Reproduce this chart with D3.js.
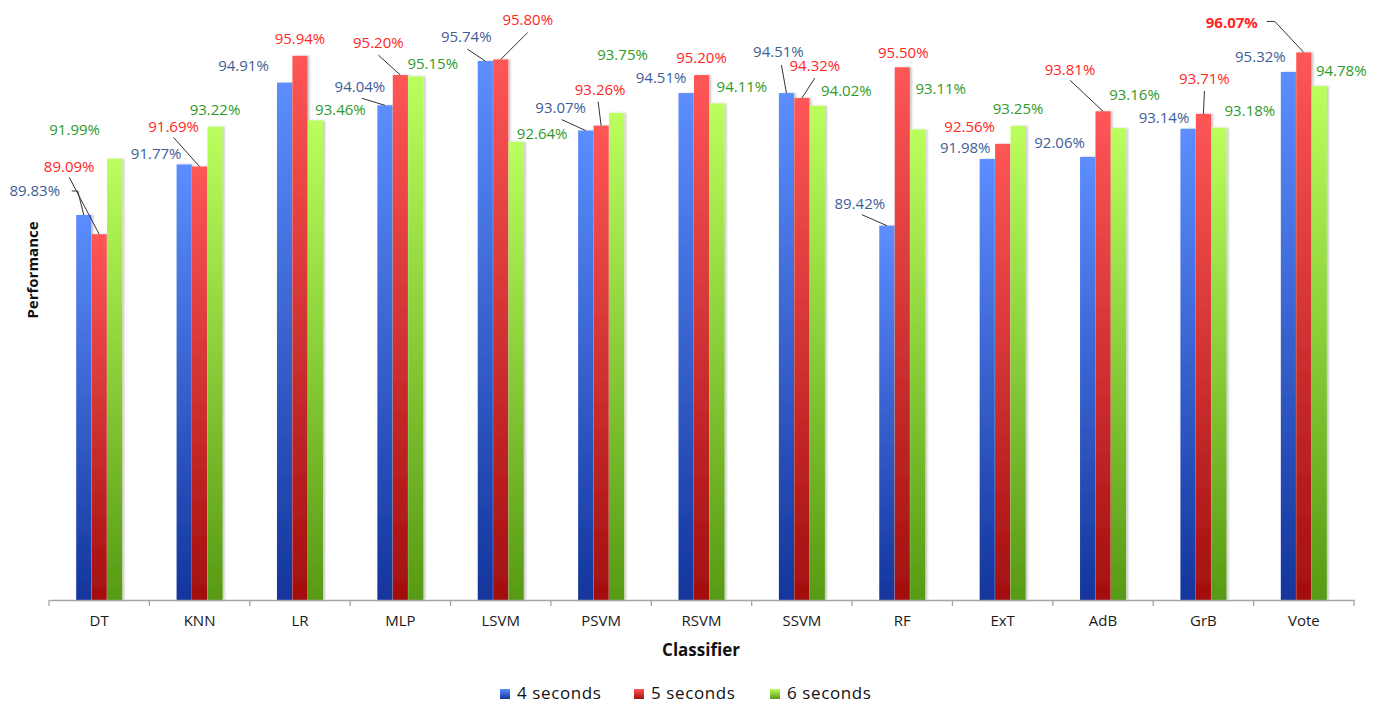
<!DOCTYPE html>
<html>
<head>
<meta charset="utf-8">
<script src="https://cdn.jsdelivr.net/npm/d3@7"></script>
<style>
  html, body { margin: 0; padding: 0; background: #ffffff; }
  svg { display: block; font-family: "Open Sans", "DejaVu Sans", sans-serif; }
</style>
</head>
<body>
<svg id="chart" width="1382" height="706"></svg>
<script>
// Classifier accuracy for three window lengths
const classifiers = ["DT", "KNN", "LR", "MLP", "LSVM", "PSVM", "RSVM", "SSVM", "RF", "ExT", "AdB", "GrB", "Vote"];
const seriesNames = ["4 seconds", "5 seconds", "6 seconds"];
const sec4 = [89.83, 91.77, 94.91, 94.04, 95.74, 93.07, 94.51, 94.51, 89.42, 91.98, 92.06, 93.14, 95.32];
const sec5 = [89.09, 91.69, 95.94, 95.20, 95.80, 93.26, 95.20, 94.32, 95.50, 92.56, 93.81, 93.71, 96.07];
const sec6 = [91.99, 93.22, 93.46, 95.15, 92.64, 93.75, 94.11, 94.02, 93.11, 93.25, 93.16, 93.18, 94.78];
const seriesValues = [sec4, sec5, sec6];

// Hand-placed label offsets [dx, dy] from the top centre of each bar
const labelOffsets4 = [[-49,-24],[-28,-11],[-41,-17],[-25,-19],[-19,-24],[-25,-23],[-25,-15],[-8,-41],[-27,-22],[-22,-11],[-28,-14],[-24,-11],[-28,-15]];
const labelOffsets5 = [[-30,-68],[-26,-40],[0,-17],[-22,-32],[27,-40],[-1,-36],[0,-17],[13,-32],[1,-15],[-33,-17],[-33,-42],[1,-35],[-72,-30]];
const labelOffsets6 = [[-40,-29],[0,-17],[25,-11],[17,-13],[26,-8],[6,-58],[25,-17],[29,-15],[23,-41],[0,-17],[16,-34],[31,-17],[22,-15]];
const labelOffsets = [labelOffsets4, labelOffsets5, labelOffsets6];

// Leader lines: start point relative to label centre, optional elbow, then to bar top
const leaders = [
  { s: 0, c: "DT",   start: [37, 0], elbow: [43, 0] },
  { s: 1, c: "DT",   start: [0, 11] },
  { s: 1, c: "KNN",  start: [0, 11] },
  { s: 0, c: "MLP",  start: [2, 12] },
  { s: 1, c: "MLP",  start: [0, 12] },
  { s: 0, c: "LSVM", start: [1, 12] },
  { s: 1, c: "LSVM", start: [0, 13] },
  { s: 0, c: "PSVM", start: [1, 12] },
  { s: 1, c: "PSVM", start: [-2, 12] },
  { s: 0, c: "SSVM", start: [3, 13] },
  { s: 1, c: "SSVM", start: [0, 12] },
  { s: 0, c: "RF",   start: [2, 11] },
  { s: 1, c: "AdB",  start: [0, 11] },
  { s: 1, c: "GrB",  start: [0, 12] },
  { s: 1, c: "Vote", start: [35, -1], elbow: [43, -1] }
];

const gradStops = [
  ["#5c8eff", "#13359c"],
  ["#ff5656", "#a30f0f"],
  ["#baff5c", "#579a14"]
];
const labelColors = ["#3e5e97", "#ff2626", "#2e9a2a"];

const svg = d3.select("#chart");
const defs = svg.append("defs");
gradStops.forEach((g, i) => {
  const lg = defs.append("linearGradient").attr("id", "grad" + i)
    .attr("x1", 0).attr("y1", 0).attr("x2", 0).attr("y2", 1);
  lg.append("stop").attr("offset", "0%").attr("stop-color", g[0]);
  lg.append("stop").attr("offset", "100%").attr("stop-color", g[1]);
});
const shadow = defs.append("filter").attr("id", "shadow")
  .attr("x", "-30%").attr("y", "-5%").attr("width", "160%").attr("height", "110%");
shadow.append("feDropShadow").attr("dx", 2).attr("dy", 0).attr("stdDeviation", 1.2)
  .attr("flood-color", "#000").attr("flood-opacity", 0.22);

const plotLeft = 49, plotRight = 1354, baseY = 600;
const x = d3.scaleBand().domain(classifiers).range([plotLeft, plotRight]).padding(0);
const groupW = 46;
const xs = d3.scaleBand().domain(d3.range(3)).range([0, groupW]).paddingInner(0.02);
const y = d3.scaleLinear().domain([75.05, 97]).range([baseY, baseY - 26.05 * (97 - 75.05)]);

const groupX = c => x(c) + (x.bandwidth() - groupW) / 2;
const barCX = (c, s) => groupX(c) + xs(s) + xs.bandwidth() / 2;

// Bars
const rows = [];
seriesValues.forEach((vals, s) => {
  vals.forEach((v, i) => rows.push({ s, c: classifiers[i], v, off: labelOffsets[s][i] }));
});

svg.append("g").attr("filter", "url(#shadow)")
  .selectAll("rect").data(rows).join("rect")
  .attr("x", d => groupX(d.c) + xs(d.s))
  .attr("width", xs.bandwidth())
  .attr("y", d => y(d.v))
  .attr("height", d => baseY - y(d.v))
  .attr("fill", d => `url(#grad${d.s})`);

// Axis
const axis = svg.append("g").attr("transform", `translate(0,${baseY})`)
  .call(d3.axisBottom(x).tickSize(0).tickPadding(15));
axis.select(".domain").attr("stroke", "#a6a6a6").attr("stroke-width", 1.3);
axis.selectAll("text").attr("font-size", 15).attr("fill", "#1a1a1a")
  .attr("font-family", "'Open Sans', sans-serif");
const bounds = classifiers.map(c => x(c)).concat([x(classifiers[classifiers.length - 1]) + x.bandwidth()]);
axis.selectAll("line.bound").data(bounds).join("line").attr("class", "bound")
  .attr("x1", d => d).attr("x2", d => d).attr("y1", 0).attr("y2", 6)
  .attr("stroke", "#a6a6a6").attr("stroke-width", 1.3);

// Leader lines
const rowOf = (s, c) => rows.find(r => r.s === s && r.c === c);
svg.append("g").selectAll("polyline").data(leaders).join("polyline")
  .attr("fill", "none").attr("stroke", "#333").attr("stroke-width", 1)
  .attr("points", d => {
    const r = rowOf(d.s, d.c);
    const cx = barCX(r.c, r.s), ty = y(r.v);
    const lx = cx + r.off[0], ly = ty + r.off[1];
    const pts = [[lx + d.start[0], ly + d.start[1]]];
    if (d.elbow) pts.push([lx + d.elbow[0], ly + d.elbow[1]]);
    pts.push([cx, ty]);
    return pts.map(p => p.join(",")).join(" ");
  });

// Value labels
svg.append("g").selectAll("text").data(rows).join("text")
  .attr("x", d => barCX(d.c, d.s) + d.off[0])
  .attr("y", d => y(d.v) + d.off[1])
  .attr("dy", "0.36em")
  .attr("text-anchor", "middle")
  .attr("font-size", 15)
  .attr("font-weight", d => (d.s === 1 && d.c === "Vote") ? 700 : 400)
  .attr("fill", d => labelColors[d.s])
  .text(d => d.v.toFixed(2) + "%");

// Axis titles
svg.append("text").attr("x", 701).attr("y", 656).attr("text-anchor", "middle")
  .attr("font-size", 17).attr("font-weight", 700).attr("fill", "#111").text("Classifier");
svg.append("text").attr("transform", "translate(38,270) rotate(-90)").attr("text-anchor", "middle")
  .attr("font-size", 15).attr("font-weight", 700).attr("fill", "#111").text("Performance");

// Legend
const legendX = [500, 634, 770];
const legend = svg.append("g").selectAll("g").data(seriesNames).join("g")
  .attr("transform", (d, i) => `translate(${legendX[i]},689)`);
legend.append("rect").attr("width", 10).attr("height", 10).attr("fill", (d, i) => `url(#grad${i})`);
legend.append("text").attr("x", 17).attr("y", 10).attr("font-size", 17)
  .attr("letter-spacing", 0.6).attr("fill", "#111").text(d => d);
</script>
</body>
</html>
